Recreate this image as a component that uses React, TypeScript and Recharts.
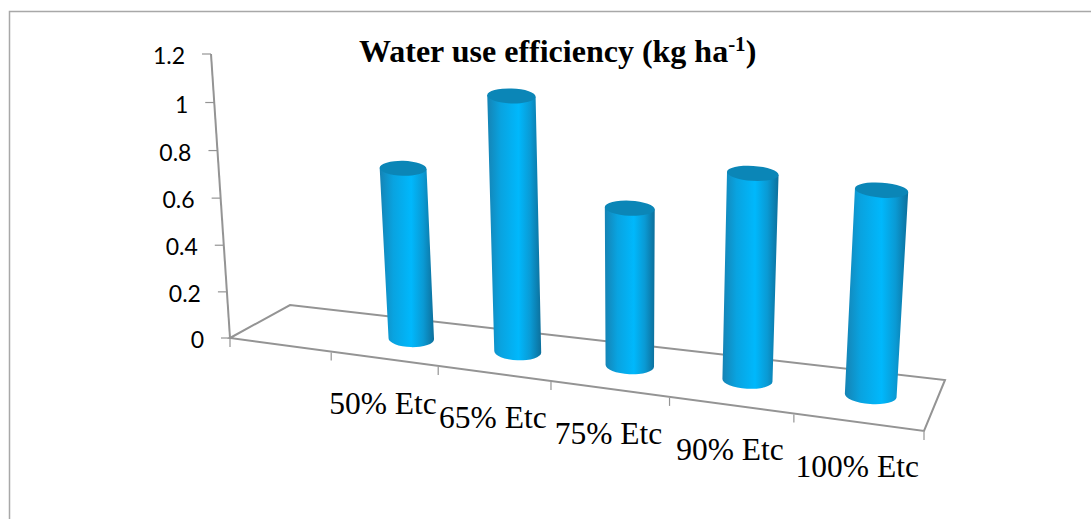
import { Bar, ComposedChart, Customized, XAxis, YAxis } from "recharts";

const categories = ["", "50% Etc", "65% Etc", "75% Etc", "90% Etc", "100% Etc"];
const efficiency = [null, 0.68, 0.99, 0.59, 0.75, 0.72];
const yTicks = [0, 0.2, 0.4, 0.6, 0.8, 1, 1.2];

const chartData = categories.map((name, i) => ({ name, value: efficiency[i] }));

const WIDTH = 1091;
const HEIGHT = 519;
const PLOT_LEFT = 230;
const PLOT_RIGHT = 924;
const PLOT_TOP = 54;
const PLOT_BOTTOM = 338;
const PLOT_W = PLOT_RIGHT - PLOT_LEFT;
const PLOT_H = PLOT_BOTTOM - PLOT_TOP;

const AXIS_GREY = "#949494";

// the original is a 3D Excel chart, so plot x/y get pushed through a fake perspective
const warpX = (x: number) => {
  const t = (x - PLOT_LEFT) / PLOT_W;
  return PLOT_LEFT + PLOT_W * (0.85 * t + 0.15 * t * t);
};
const warpY = (y: number) => {
  const s = (PLOT_BOTTOM - y) / PLOT_H;
  return PLOT_BOTTOM - PLOT_H * (0.97 * s + 0.03 * s * s);
};
const floorY = (sx: number) => PLOT_BOTTOM + ((sx - PLOT_LEFT) * 93) / PLOT_W;
const gain = (sx: number) => 1 + 0.00032 * (sx - PLOT_LEFT);
const wallShift = (sy: number) => ((PLOT_BOTTOM - sy) * -19) / PLOT_H;

function Cylinder(props: any) {
  const { x, width, height, payload } = props;
  if (payload.value == null) return null;
  const front = warpX(x + width / 2);
  const u = (front - PLOT_LEFT) / PLOT_W;
  const baseX = front + (30 - 20 * u) * 1.08;
  const baseY = floorY(front) - (16.5 + 9 * u) * 1.08;
  const g = gain(baseX);
  const h = height * g;
  const w = width * g;
  const topX = baseX + (baseX - 630) * 0.00022 * h;
  const topY = baseY - h;
  const topW = w * 1.03;
  const tilt = 0.5 + 4 * u;
  const rad = (tilt * Math.PI) / 180;
  const bx = (w / 2) * Math.cos(rad);
  const by = (w / 2) * Math.sin(rad);
  const tx = (topW / 2) * Math.cos(rad);
  const ty = (topW / 2) * Math.sin(rad);
  const body = `M${topX - tx},${topY - ty} L${baseX - bx},${baseY - by} A${w / 2},8.5 ${tilt} 0 0 ${baseX + bx},${baseY + by} L${topX + tx},${topY + ty} Z`;
  return (
    <g>
      <path d={body} fill="url(#cylinderSide)" />
      <ellipse
        cx={topX}
        cy={topY}
        rx={topW / 2}
        ry={7.5}
        fill="#0b86b7"
        transform={`rotate(${tilt} ${topX} ${topY})`}
      />
    </g>
  );
}

function Backdrop() {
  const front = floorY(PLOT_RIGHT);
  const boundaries = categories.map((_, i) => warpX(PLOT_LEFT + (PLOT_W * i) / categories.length));
  boundaries.push(PLOT_RIGHT);
  return (
    <g>
      <defs>
        <linearGradient id="cylinderSide" x1="0" y1="0" x2="1" y2="0">
          <stop offset="0%" stopColor="#1583b4" />
          <stop offset="25%" stopColor="#09a3e0" />
          <stop offset="58%" stopColor="#00b8fc" />
          <stop offset="80%" stopColor="#0a9ad4" />
          <stop offset="100%" stopColor="#0d6f9b" />
        </linearGradient>
      </defs>
      <path
        d={`M9.5,${HEIGHT} L9.5,11.5 L${WIDTH},11.5`}
        fill="none"
        stroke="#a8a8a8"
        strokeWidth={1.5}
      />
      <path
        d={`M${PLOT_LEFT},${PLOT_BOTTOM} L290,305 L945,380 L${PLOT_RIGHT},${front} Z`}
        fill="none"
        stroke={AXIS_GREY}
        strokeWidth={2}
      />
      <line
        x1={PLOT_LEFT}
        y1={PLOT_BOTTOM}
        x2={PLOT_LEFT + wallShift(PLOT_TOP)}
        y2={PLOT_TOP}
        stroke={AXIS_GREY}
        strokeWidth={2}
      />
      {boundaries.map((sx, i) => (
        <line
          key={i}
          x1={sx}
          y1={floorY(sx) + (i === 0 ? 0 : 1)}
          x2={sx}
          y2={floorY(sx) + 9}
          stroke={AXIS_GREY}
          strokeWidth={1.2}
        />
      ))}
      <text x={359} y={62} fontFamily="Liberation Serif" fontWeight="bold" fontSize={32} fill="#000">
        Water use efficiency (kg ha
        <tspan fontSize={21} dy={-11}>-1</tspan>
        <tspan dy={11}>)</tspan>
      </text>
    </g>
  );
}

function CategoryTick({ x, payload }: any) {
  const sx = warpX(x);
  return (
    <text
      x={sx - 1}
      y={floorY(sx) + 55}
      textAnchor="middle"
      fontFamily="Liberation Serif"
      fontSize={31.5}
      fill="#000"
    >
      {payload.value}
    </text>
  );
}

function ValueTick({ y, payload }: any) {
  const sy = warpY(y);
  const ax = PLOT_LEFT + wallShift(sy);
  return (
    <g>
      <line x1={ax - 9} y1={sy} x2={ax} y2={sy} stroke={AXIS_GREY} strokeWidth={1.2} />
      <text
        x={ax - 26}
        y={sy + 10}
        textAnchor="end"
        fontFamily="Lato"
        fontSize={23}
        fill="#000"
      >
        {payload.value}
      </text>
    </g>
  );
}

export default function App() {
  return (
    <div style={{ position: "absolute", left: 0, top: 0, width: WIDTH, height: HEIGHT, background: "#fff" }}>
      <ComposedChart
        width={WIDTH}
        height={HEIGHT}
        data={chartData}
        margin={{ top: PLOT_TOP, right: WIDTH - PLOT_RIGHT, bottom: 151, left: 170 }}
      >
        <Customized component={Backdrop} />
        <XAxis
          dataKey="name"
          height={30}
          interval={0}
          axisLine={false}
          tickLine={false}
          tick={CategoryTick}
        />
        <YAxis
          width={60}
          domain={[0, 1.2]}
          ticks={yTicks}
          axisLine={false}
          tickLine={false}
          tick={ValueTick}
        />
        <Bar dataKey="value" barSize={43} shape={Cylinder} isAnimationActive={false} />
      </ComposedChart>
    </div>
  );
}
